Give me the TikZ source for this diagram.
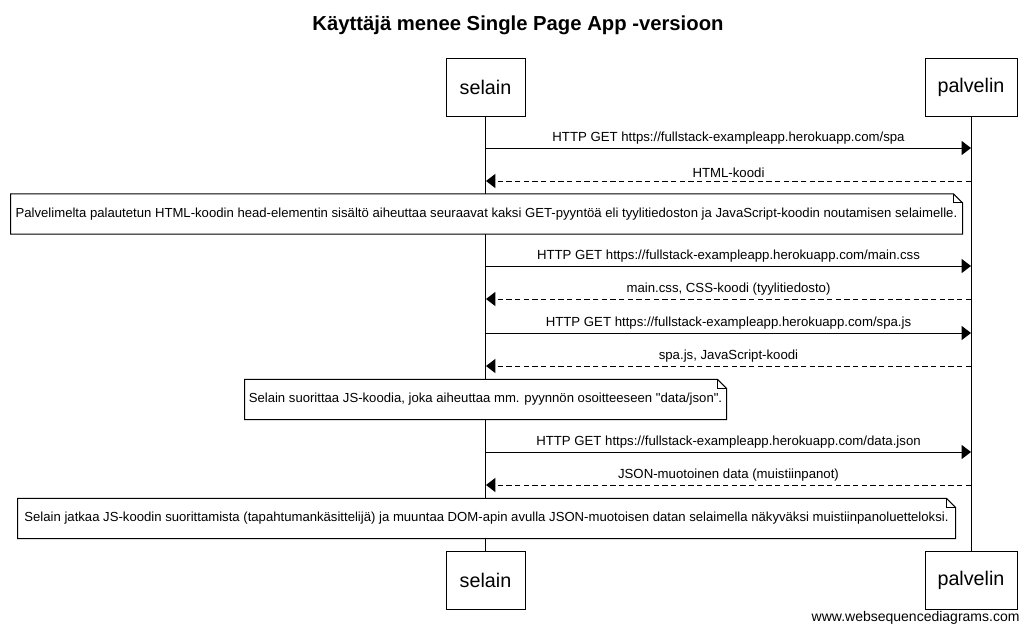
\documentclass[tikz,border=0pt]{standalone}
\usepackage{fontspec}
\setmainfont{Liberation Sans}[Ligatures=TeXOff]
\usetikzlibrary{arrows.meta,calc}

\begin{document}
\begin{tikzpicture}[
  x=0.75pt, y=-0.75pt, line width=0.75pt,
  actor/.style={draw, fill=white, minimum height=43.5pt, inner sep=0pt, font=\fontsize{14.8}{16}\selectfont},
  msg/.style={-{Triangle[length=7pt, width=10.5pt]}},
  reply/.style={msg, dash pattern=on 4pt off 2.5pt},
  lbl/.style={font=\fontsize{9.9}{11}\selectfont, inner sep=1pt, above=1.3pt},
  notetext/.style={font=\fontsize{9.85}{11}\selectfont, inner sep=0pt, minimum height=29.5pt},
]
\useasboundingbox (0,0) rectangle (1033,633);

% Title
\node[font=\bfseries\fontsize{15.2}{17}\selectfont] (title) at (518,25) {Käyttäjä menee Single Page App -versioon};

% Participants
\node[actor, minimum width=59.25pt] (selTop) at (485.5,87) {selain};
\node[actor, minimum width=69pt] (palTop) at (971,87) {palvelin};
\node[actor, minimum width=59.25pt] (selBot) at (485.5,580) {selain};
\node[actor, minimum width=69pt] (palBot) at (971,580) {palvelin};

% Lifelines
\draw (selTop.south) -- (selBot.north);
\draw (palTop.south) -- (palBot.north);

% Message end points
\coordinate (s1) at (486,148);  \coordinate (p1) at (971,148);
\coordinate (s2) at (486,181);  \coordinate (p2) at (971,181);
\coordinate (s3) at (486,266);  \coordinate (p3) at (971,266);
\coordinate (s4) at (486,299);  \coordinate (p4) at (971,299);
\coordinate (s5) at (486,333);  \coordinate (p5) at (971,333);
\coordinate (s6) at (486,366);  \coordinate (p6) at (971,366);
\coordinate (s7) at (486,452);  \coordinate (p7) at (971,452);
\coordinate (s8) at (486,485);  \coordinate (p8) at (971,485);

% Messages
\draw[msg] (s1) -- (p1) node[midway, lbl] {HTTP GET https://fullstack-exampleapp.herokuapp.com/spa};
\draw[reply] (p2) -- (s2) node[midway, lbl] {HTML-koodi};
\draw[msg] (s3) -- (p3) node[midway, lbl] {HTTP GET https://fullstack-exampleapp.herokuapp.com/main.css};
\draw[reply] (p4) -- (s4) node[midway, lbl] {main.css, CSS-koodi (tyylitiedosto)};
\draw[msg] (s5) -- (p5) node[midway, lbl] {HTTP GET https://fullstack-exampleapp.herokuapp.com/spa.js};
\draw[reply] (p6) -- (s6) node[midway, lbl] {spa.js, JavaScript-koodi};
\draw[msg] (s7) -- (p7) node[midway, lbl] {HTTP GET https://fullstack-exampleapp.herokuapp.com/data.json};
\draw[reply] (p8) -- (s8) node[midway, lbl] {JSON-muotoinen data (muistiinpanot)};

% Notes (outline first, text on top)
\node[notetext, minimum width=713.25pt] (note1) at (486.5,214) {};
\node[notetext, minimum width=360.75pt] (note2) at (485.5,399.5) {};
\node[notetext, minimum width=702.75pt] (note3) at (486.5,518.5) {};
\foreach \n in {note1,note2,note3}{
  \fill[white] (\n.north west) rectangle (\n.south east);
  \draw (\n.north west) -- ($(\n.north east)+(-9,0)$) -- ($(\n.north east)+(0,9)$)
    -- (\n.south east) -- (\n.south west) -- cycle;
  \draw ($(\n.north east)+(-9,0)$) -- ($(\n.north east)+(-9,9)$) -- ($(\n.north east)+(0,9)$);
}
\node[notetext] at (note1) {Palvelimelta palautetun HTML-koodin head-elementin sisältö aiheuttaa seuraavat kaksi GET-pyyntöä eli tyylitiedoston ja JavaScript-koodin noutamisen selaimelle.};
\node[notetext] at (note2) {Selain suorittaa JS-koodia, joka aiheuttaa mm. pyynnön osoitteeseen "data/json".};
\node[notetext] at (note3) {Selain jatkaa JS-koodin suorittamista (tapahtumankäsittelijä) ja muuntaa DOM-apin avulla JSON-muotoisen datan selaimella näkyväksi muistiinpanoluetteloksi.};

% Watermark
\node[font=\fontsize{10.5}{12}\selectfont, anchor=east, inner sep=0pt] (wsd) at (1020,618) {www.websequencediagrams.com};
\end{tikzpicture}
\end{document}
